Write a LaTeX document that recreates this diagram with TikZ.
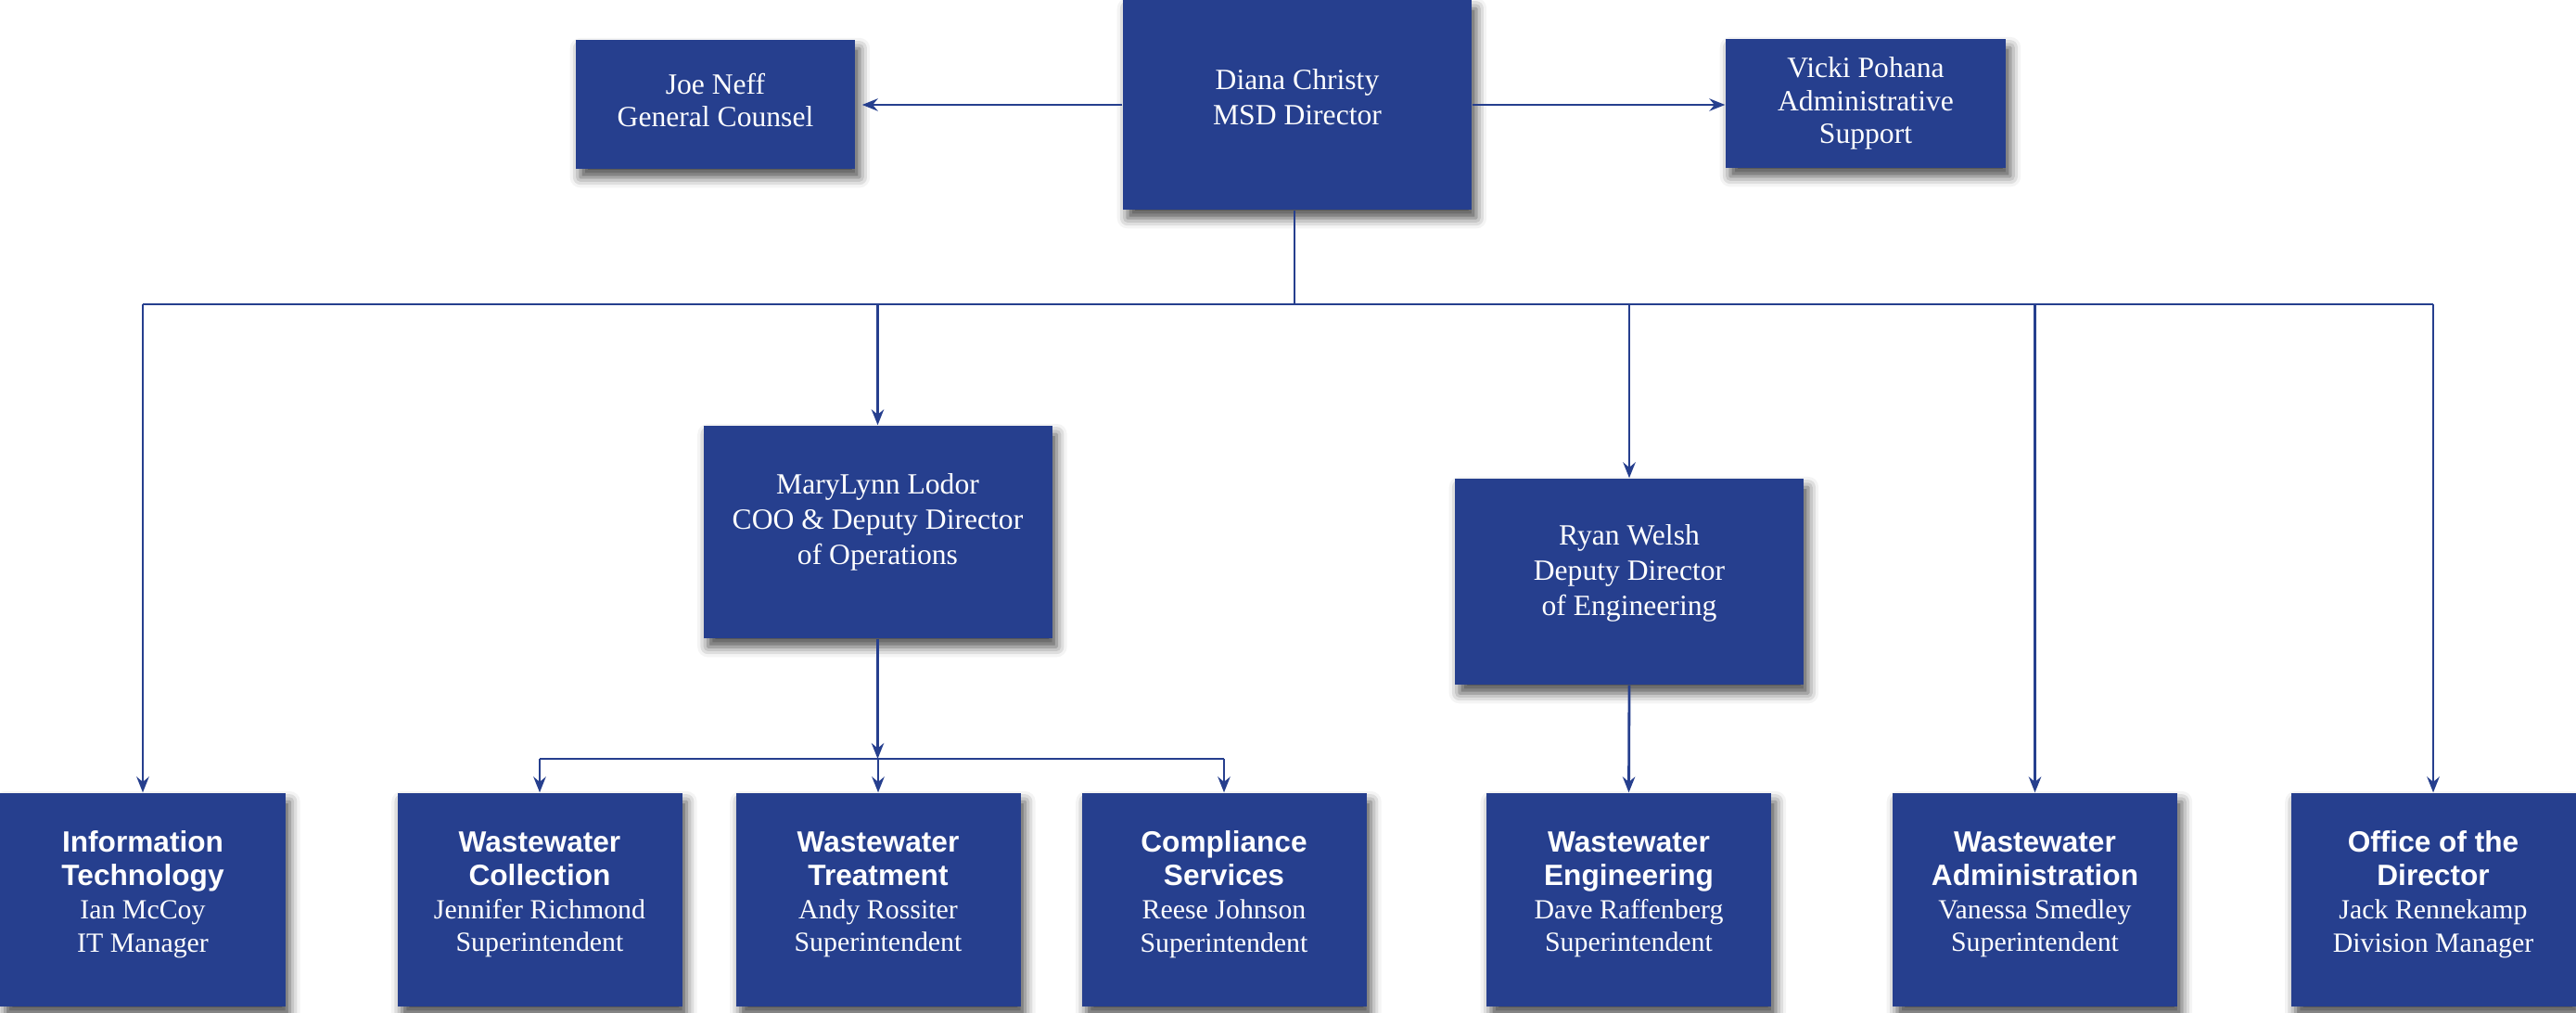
\documentclass[tikz,border=0pt]{standalone}
\usepackage{fontspec}
\setmainfont{Liberation Serif}
\newfontfamily\headfont{Liberation Sans}
\usepackage{xcolor}
\usepackage{tikz}
\usetikzlibrary{arrows.meta, positioning, shadows.blur}
\definecolor{msdblue}{RGB}{38,63,142}
\newcommand{\unithead}[1]{{\headfont\bfseries\fontsize{9}{10.2}\selectfont #1}}

\begin{document}
\begin{tikzpicture}
\tikzset{edge/.style = {draw=msdblue, line width=0.8pt, -{Stealth[length=4.8pt, width=3.8pt]}},
         line/.style = {draw=msdblue, line width=0.8pt},
         card/.style = {fill=msdblue, text=white, align=center, inner sep=0pt,
                        blur shadow={shadow xshift=1.4pt, shadow yshift=-2.6pt,
                                     shadow blur radius=3.2pt, shadow opacity=70}},
         person/.style = {card, font=\fontsize{9}{10.8}\selectfont},
         unit/.style = {card, minimum width=3.07cm, minimum height=2.30cm,
                        font=\fontsize{8.5}{10.2}\selectfont, text depth=5pt}}
\useasboundingbox (0,0) rectangle (27.78,-10.92);
            % vertices
	\node[person, minimum width=3.76cm, minimum height=2.26cm, text depth=4.6pt] (diana) at (13.99,-1.13) {Diana Christy\\MSD Director};
	\node[person, minimum width=3.01cm, minimum height=1.39cm, text depth=2.6pt, font=\fontsize{9}{10}\selectfont] (joe) at (7.715,-1.125) {Joe Neff\\General Counsel};
	\node[person, minimum width=3.02cm, minimum height=1.39cm, font=\fontsize{9}{10}\selectfont] (vicki) at (20.12,-1.115) {Vicki Pohana\\Administrative\\Support};
	\node[person, minimum width=3.76cm, minimum height=2.29cm, text depth=8pt] (mary) at (9.465,-5.735) {MaryLynn Lodor\\COO \& Deputy Director\\of Operations};
	\node[person, minimum width=3.76cm, minimum height=2.22cm, text depth=7pt] (ryan) at (17.57,-6.27) {Ryan Welsh\\Deputy Director\\of Engineering};
	\node[unit] (it) at (1.54,-9.70) {\unithead{Information}\\\unithead{Technology}\\Ian McCoy\\IT Manager};
	\node[unit] (wc) at (5.82,-9.70) {\unithead{Wastewater}\\\unithead{Collection}\\Jennifer Richmond\\Superintendent};
	\node[unit] (wt) at (9.47,-9.70) {\unithead{Wastewater}\\\unithead{Treatment}\\Andy Rossiter\\Superintendent};
	\node[unit] (cs) at (13.20,-9.70) {\unithead{Compliance}\\\unithead{Services}\\Reese Johnson\\Superintendent};
	\node[unit] (we) at (17.565,-9.70) {\unithead{Wastewater}\\\unithead{Engineering}\\Dave Raffenberg\\Superintendent};
	\node[unit] (wa) at (21.945,-9.70) {\unithead{Wastewater}\\\unithead{Administration}\\Vanessa Smedley\\Superintendent};
	\node[unit] (od) at (26.24,-9.70) {\unithead{Office of the}\\\unithead{Director}\\Jack Rennekamp\\Division Manager};
	\coordinate (bus) at (0,-3.28);
	\coordinate (sub) at (0,-8.18);
            %edges
	\draw[edge, shorten >=2pt] (diana.west) -- (diana.west -| joe.east);
	\draw[edge] (diana.east) -- (diana.east -| vicki.west);
	\draw[line] ([xshift=-0.03cm]diana.south) -- ([xshift=-0.03cm]diana.south |- bus);
	\draw[line] (it.north |- bus) -- (od.north |- bus);
	\foreach \n in {it, mary, ryan, wa, od}
		\draw[edge] (\n.north |- bus) -- (\n.north);
	\draw[edge] (mary.south) -- (mary.south |- sub);
	\draw[line] (wc.north |- sub) -- (cs.north |- sub);
	\foreach \n in {wc, wt, cs}
		\draw[edge] (\n.north |- sub) -- (\n.north);
	\draw[edge] (ryan.south) -- (we.north);
\end{tikzpicture}
\end{document}
